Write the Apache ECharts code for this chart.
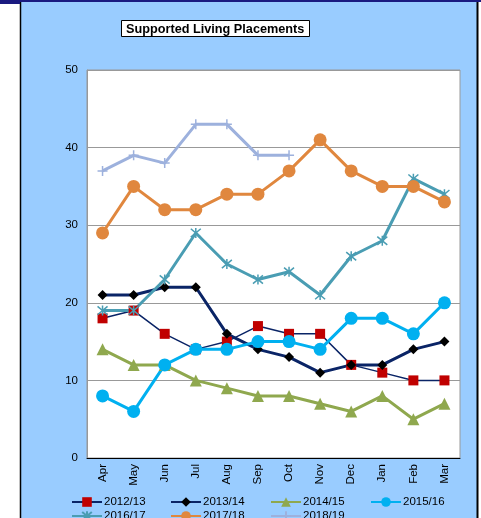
<!DOCTYPE html>
<html>
<head>
<meta charset="utf-8">
<script src="https://cdn.jsdelivr.net/npm/echarts@6/dist/echarts.min.js"></script>
<style>
html,body{margin:0;padding:0;background:#fff;}
#c{width:481px;height:518px;}
</style>
</head>
<body>
<div id="c"></div>
<script>
var months = ['Apr','May','Jun','Jul','Aug','Sep','Oct','Nov','Dec','Jan','Feb','Mar'];
var yTicks = [0, 10, 20, 30, 40, 50];
var s2012 = [18, 19, 16, 14, 15, 17, 16, 16, 12, 11, 10, 10];
var s2013 = [21, 21, 22, 22, 16, 14, 13, 11, 12, 12, 14, 15];
var s2014 = [14, 12, 12, 10, 9, 8, 8, 7, 6, 8, 5, 7];
var s2015 = [8, 6, 12, 14, 14, 15, 15, 14, 18, 18, 16, 20];
var s2016 = [19, 19, 23, 29, 25, 23, 24, 21, 26, 28, 36, 34];
var s2017 = [29, 35, 32, 32, 34, 34, 37, 41, 37, 35, 35, 33];
var s2018 = [37, 39, 38, 43, 43, 39, 39, null, null, null, null, null];
var names = ['2012/13','2013/14','2014/15','2015/16','2016/17','2017/18','2018/19'];

var FONT = '"Liberation Sans", Arial, sans-serif';
var ASTER = 'path://M0,0L10,10M10,0L0,10M5,-1L5,11';
var PLUS = 'path://M5,0L5,10M0,5L10,5';

function mk(name, data, lineColor, lineWidth, symbol, size, fill, border, bw) {
  return {
    name: name, type: 'line', data: data,
    symbol: symbol, symbolSize: size,
    lineStyle: {color: lineColor, width: lineWidth},
    itemStyle: {color: fill, borderColor: border || fill, borderWidth: bw || 0},
    emphasis: {disabled: true},
    animation: false
  };
}

var series = [
  mk(names[0], s2012, '#0A2466', 1.5, 'rect', 10, '#C00000', '#C00000', 0),
  mk(names[1], s2013, '#0A2466', 3, 'diamond', 10, '#000000', '#000000', 0),
  mk(names[2], s2014, '#8FA84E', 3, 'triangle', 12, '#8FA84E', '#8FA84E', 0),
  mk(names[3], s2015, '#00B0F0', 3, 'circle', 13, '#00B0F0', '#00B0F0', 0),
  mk(names[4], s2016, '#4A9DB3', 3, ASTER, 10, 'rgba(0,0,0,0)', '#4A9DB3', 1.5),
  mk(names[5], s2017, '#E0873E', 3, 'circle', 13, '#E0873E', '#E0873E', 0),
  mk(names[6], s2018, '#9DB1DD', 3, PLUS, 10, 'rgba(0,0,0,0)', '#9DB1DD', 1.5)
];

var legendPos = [[71,496],[170,496],[270,496],[370,496],[71,510],[170,510],[270,510]];
var legends = names.map(function(n, i){
  return {
    data: [n], left: legendPos[i][0], top: legendPos[i][1],
    itemWidth: 30, itemHeight: 12, itemGap: 0, padding: 0,
    textStyle: {fontFamily: FONT, fontSize: 11.5, color: '#000', padding: [0,0,0,-3]},
    selectedMode: false
  };
});

var chart = echarts.init(document.getElementById('c'), null, {renderer: 'canvas'});
chart.setOption({
  backgroundColor: '#ffffff',
  animation: false,
  graphic: [
    {type: 'rect', z: -10, shape: {x: 20, y: 0, width: 458, height: 520}, style: {fill: '#99CCFF'}},
    {type: 'line', z: -9, shape: {x1: 20.5, y1: 0, x2: 20.5, y2: 520}, style: {stroke: '#000', lineWidth: 1.5}},
    {type: 'line', z: -9, shape: {x1: 477.5, y1: 0, x2: 477.5, y2: 520}, style: {stroke: '#000', lineWidth: 2}},
    {type: 'rect', z: -8, shape: {x: 0, y: 0, width: 481, height: 2}, style: {fill: '#1A1A80'}},
    {type: 'rect', z: -8, shape: {x: 0, y: 0, width: 20, height: 4}, style: {fill: '#1A1A80'}}
  ],
  title: {
    text: 'Supported Living Placements',
    left: 121, top: 20,
    padding: [2, 5, 1, 5],
    backgroundColor: '#ffffff', borderColor: '#000', borderWidth: 1,
    textStyle: {fontFamily: FONT, fontSize: 12.7, fontWeight: 'bold', color: '#000', lineHeight: 14}
  },
  legend: legends,
  grid: {
    left: 87, top: 70, right: 21, bottom: 60,
    show: true, backgroundColor: '#ffffff', borderColor: '#999999', borderWidth: 1
  },
  xAxis: {
    type: 'category', data: months, boundaryGap: true,
    axisLine: {lineStyle: {color: '#000', width: 1}},
    axisTick: {show: false},
    axisLabel: {rotate: 90, fontFamily: FONT, fontSize: 11.5, color: '#000', margin: 6, interval: 0}
  },
  yAxis: {
    type: 'value', min: yTicks[0], max: yTicks[yTicks.length-1], interval: 10,
    axisLine: {show: true, lineStyle: {color: '#999', width: 1}},
    axisTick: {show: false},
    splitLine: {show: true, lineStyle: {color: '#999999', width: 1}},
    axisLabel: {fontFamily: FONT, fontSize: 11.5, color: '#000', margin: 9}
  },
  series: series
});
</script>
</body>
</html>
